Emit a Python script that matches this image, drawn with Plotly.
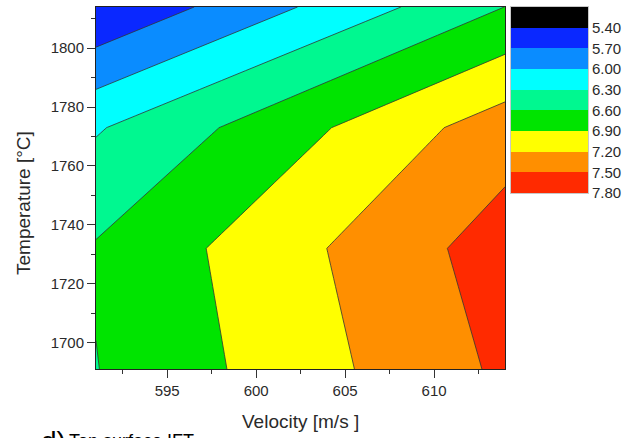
import plotly.graph_objects as go

# ---- data ----
velocity = [591, 614]                       # m/s (grid columns)
temperature = [1691, 1732, 1773, 1814]      # °C (grid rows)
ift = [
    [6.592, 7.555],   # 1691
    [6.626, 7.644],   # 1732
    [6.272, 7.363],   # 1773
    [5.415, 6.603],   # 1814
]
level_values = [5.40, 5.70, 6.00, 6.30, 6.60, 6.90, 7.20, 7.50, 7.80]
level_labels = ["5.40", "5.70", "6.00", "6.30", "6.60", "6.90", "7.20", "7.50", "7.80"]
band_centers = [5.25, 5.55, 5.85, 6.15, 6.45, 6.75, 7.05, 7.35, 7.65]
band_colors = ["#000000", "#0a28ff", "#0a8cff", "#00ffff", "#00f890",
               "#00e400", "#ffff00", "#ff8f00", "#ff2a00"]
above_color = "#b00000"

fill_colors = band_colors + [above_color]
n = len(fill_colors)
cscale = [[i / (n - 1), c] for i, c in enumerate(fill_colors)]

FONT = "Liberation Sans, Arial, sans-serif"
TXT = "#2a2a2a"

fig = go.Figure()
fig.add_trace(go.Contour(
    x=velocity, y=temperature, z=ift,
    autocontour=False,
    contours=dict(start=level_values[0], end=level_values[-1], size=0.3,
                  coloring="fill", showlines=True),
    line=dict(color="#333333", width=0.8, smoothing=0),
    colorscale=cscale, showscale=False,
    xaxis="x", yaxis="y", hoverinfo="skip",
))

# legend as a stacked heatmap column
nb = len(band_colors)
lscale = [[i / (nb - 1), c] for i, c in enumerate(band_colors)]
fig.add_trace(go.Heatmap(
    x=[0], y=band_centers, z=[[i] for i in range(nb)],
    zmin=0, zmax=nb - 1, colorscale=lscale, showscale=False,
    xaxis="x2", yaxis="y2", hoverinfo="skip",
))

W, H = 638, 438
ml, mr, mt, mb = 96, 40, 7, 69
pw = W - ml - mr
ph = H - mt - mb

def px_x(p):
    return (p - ml) / pw

def px_y(p):
    return (H - mb - p) / ph

axis_common = dict(showline=True, linecolor="#222222", linewidth=1, mirror=True,
                   ticks="outside", ticklen=8, tickcolor="#333333", tickwidth=1,
                   tickfont=dict(family=FONT, size=15, color=TXT),
                   showgrid=False, zeroline=False)

fig.update_layout(
    width=W, height=H,
    margin=dict(l=ml, r=mr, t=mt, b=mb),
    paper_bgcolor="white", plot_bgcolor="white",
    xaxis=dict(domain=[0, 409.3 / pw], range=[591, 614], dtick=5, tick0=595,
               minor=dict(ticks="outside", ticklen=4, dtick=2.5, tick0=595,
                          tickcolor="#333333"),
               **axis_common),
    yaxis=dict(domain=[0, 1], range=[1691, 1814], dtick=20, tick0=1700,
               minor=dict(ticks="outside", ticklen=4, dtick=10, tick0=1700,
                          tickcolor="#333333"),
               **axis_common),
    xaxis2=dict(domain=[px_x(511), px_x(588)], range=[-0.5, 0.5], anchor="y2",
                showticklabels=False, ticks="", showgrid=False, zeroline=False,
                showline=True, mirror=True, linecolor="#c8c8c8", linewidth=1),
    yaxis2=dict(domain=[px_y(193), 1], range=[7.8, 5.1], anchor="x2", side="right",
                tickvals=level_values, ticktext=level_labels, ticks="",
                tickfont=dict(family=FONT, size=15, color=TXT),
                showgrid=False, zeroline=False,
                showline=True, mirror=True, linecolor="#c8c8c8", linewidth=1),
    showlegend=False,
)

fig.add_annotation(text="Velocity [m/s ]", xref="x domain", yref="paper",
                   x=0.5, y=px_y(421), xanchor="center", yanchor="middle",
                   showarrow=False, font=dict(family=FONT, size=19, color=TXT))
fig.add_annotation(text="Temperature [°C]", xref="paper", yref="paper",
                   x=px_x(24), y=px_y(203), xanchor="center", yanchor="middle",
                   textangle=-90, showarrow=False,
                   font=dict(family=FONT, size=19, color=TXT))
fig.add_annotation(text="d)", xref="paper", yref="paper",
                   x=px_x(39), y=px_y(424), xanchor="left", yanchor="top",
                   showarrow=False, font=dict(family=FONT, size=28, color="#000000"))
fig.add_annotation(text="Top surface IFT", xref="paper", yref="paper",
                   x=px_x(67), y=px_y(429), xanchor="left", yanchor="top",
                   showarrow=False, font=dict(family=FONT, size=18, color="#000000"))

fig.write_html("out.html",
               config={"displayModeBar": False},
               post_script="document.body.style.margin='0';document.body.style.overflow='hidden';")
